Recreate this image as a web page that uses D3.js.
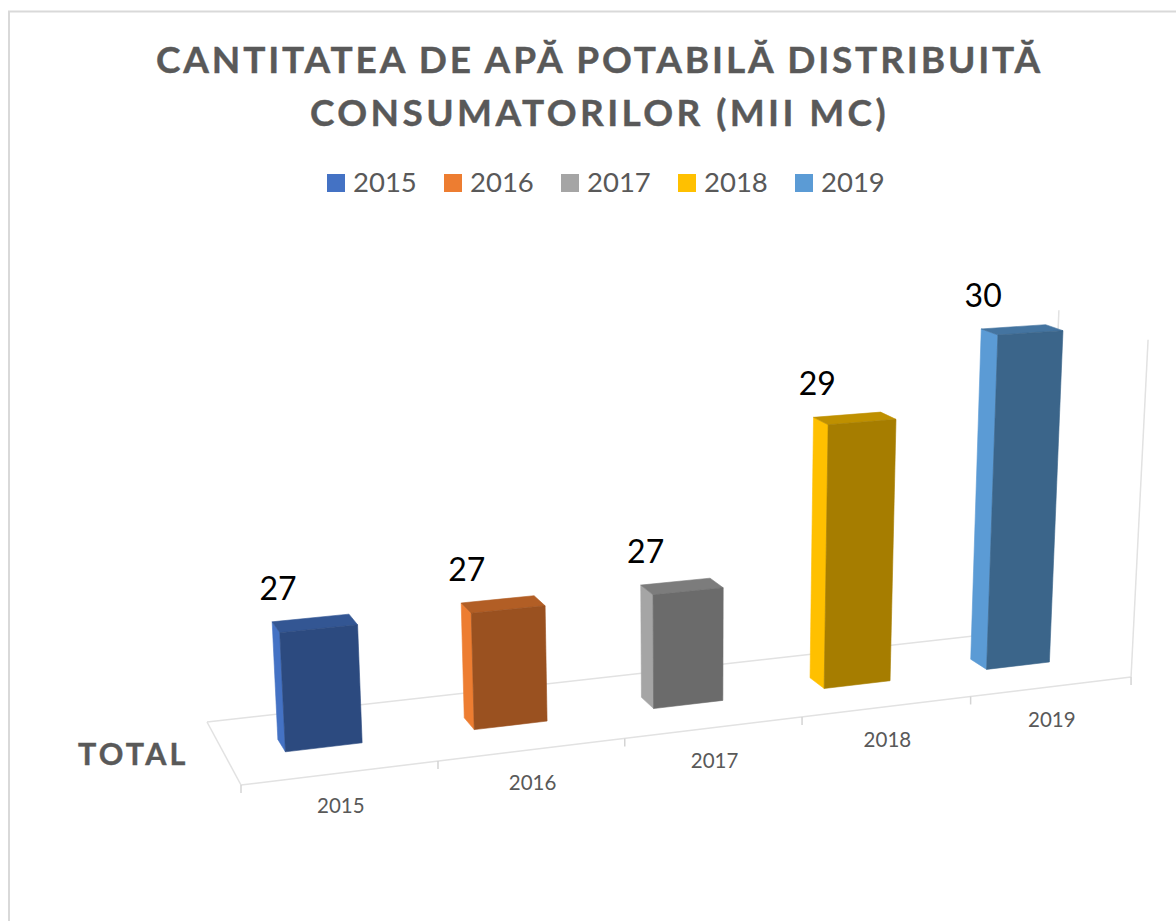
<!DOCTYPE html>
<html>
<head>
<meta charset="utf-8">
<script src="https://cdn.jsdelivr.net/npm/d3@7/dist/d3.min.js"></script>
<style>
html,body{margin:0;padding:0;background:#fff;}
svg{display:block;}
text{font-family:Lato,"Open Sans",sans-serif;}
</style>
</head>
<body>
<svg id="chart" width="1176" height="921"></svg>
<script>
const titleLines = ["CANTITATEA DE APĂ POTABILĂ DISTRIBUITĂ", "CONSUMATORILOR (MII MC)"];
const rowLabel = "TOTAL";
const years = ["2015", "2016", "2017", "2018", "2019"];
const values = [27, 27, 27, 29, 30];
const seriesColors = ["#4472C4", "#ED7D31", "#A5A5A5", "#FFC000", "#5B9BD5"];
const axisDomain = [25.5, 30];

const textColor = "#595959", lineColor = "#E2E2E2";
const svg = d3.select("#chart");

// Scales: category position, bar height, depth
const uScale = d3.scaleBand().domain(years).range([0, years.length]).paddingInner(0.6).paddingOuter(0.3);
const zScale = d3.scaleLinear().domain(axisDomain).range([0, 364.5]);
const depth = {front: 0.4, back: 0.6};

// Perspective camera (homogeneous projection of category, depth, height)
function project(u, d, z) {
  const w = 1 + 0.0274 * u + 0.0747 * d - 0.000117 * z;
  return [
    (241 + 209 * u - 18.5 * d - 0.0812 * z) / w,
    (785 - 3.05 * u - 9.07 * d - 1.092 * z) / w
  ];
}
const line = d3.line();
const shade = (c, f) => { const r = d3.rgb(c); return d3.rgb(r.r * f, r.g * f, r.b * f).formatHex(); };

// Outer frame
svg.append("path").attr("d", line([[9, 921], [9, 11.5], [1176, 11.5]]))
  .attr("fill", "none").attr("stroke", "#D9D9D9").attr("stroke-width", 2);

// Title
const titleSpacing = [2.86, 3.41];
svg.append("g").selectAll("text").data(titleLines).join("text")
  .attr("x", 599.5).attr("y", (d, i) => 73 + i * 52.5)
  .attr("text-anchor", "middle").attr("font-size", 37).attr("font-weight", 700)
  .attr("letter-spacing", (d, i) => titleSpacing[i]).attr("fill", textColor)
  .attr("stroke", textColor).attr("stroke-width", 0.4).text(d => d);

// Legend
const legendX = d3.scalePoint().domain(years).range([327, 795]);
const legend = svg.append("g").selectAll("g").data(years).join("g")
  .attr("transform", d => `translate(${legendX(d)},174)`);
legend.append("rect").attr("width", 18).attr("height", 18).attr("fill", (d, i) => seriesColors[i]);
legend.append("text").attr("x", 26).attr("y", 18).attr("font-size", 27.5)
  .attr("fill", textColor).text(d => d);

// Floor and walls
const n = years.length, zTop = zScale(axisDomain[1]);
const floorLines = [
  [project(0, 1, 0), project(n, 1, 0)],
  [project(0, 1, 0), project(0, 0, 0)],
  [project(0, 0, 0), project(n, 0, 0)],
  [project(n, 0, 0), project(n, 0, zTop)],
  [project(n, 1, 0), project(n, 1, zTop)]
];
svg.append("g").selectAll("path").data(floorLines).join("path")
  .attr("d", line).attr("fill", "none").attr("stroke", lineColor).attr("stroke-width", 1.5);

// Ticks
svg.append("g").selectAll("path").data(d3.range(n + 1)).join("path")
  .attr("d", u => { const p = project(u, 0, 0); return line([p, [p[0], p[1] + 8]]); })
  .attr("fill", "none").attr("stroke", "#D4D4D4").attr("stroke-width", 1.5);

// Category labels
const step = uScale.step();
svg.append("g").selectAll("text").data(years).join("text")
  .attr("x", (d, i) => project((i + 0.5) * step, 0, 0)[0])
  .attr("y", (d, i) => project((i + 0.5) * step, 0, 0)[1] + 40)
  .attr("text-anchor", "middle").attr("font-size", 20.5).attr("fill", textColor).text(d => d);

// Bars, painted back-to-front faces
const bars = svg.append("g").selectAll("g").data(years).join("g");
function addFace(g, pts, fill) {
  g.append("path").attr("d", line(pts) + "Z").attr("fill", fill)
    .attr("stroke", fill).attr("stroke-width", 0.6).attr("stroke-linejoin", "round");
}
bars.each(function (y, i) {
  const g = d3.select(this);
  const u0 = uScale(y), u1 = u0 + uScale.bandwidth();
  const h = zScale(values[i]), c = seriesColors[i];
  const df = depth.front, db = depth.back;
  addFace(g, [project(u0, db, 0), project(u0, df, 0), project(u0, df, h), project(u0, db, h)], c);
  addFace(g, [project(u0, df, h), project(u1, df, h), project(u1, db, h), project(u0, db, h)], shade(c, 0.75));
  addFace(g, [project(u0, df, 0), project(u1, df, 0), project(u1, df, h), project(u0, df, h)], shade(c, 0.65));
});

// Data labels
svg.append("g").selectAll("text").data(years).join("text")
  .attr("x", (y, i) => project(uScale(y), depth.back, zScale(values[i]))[0] + 5.9 - 0.25 * i * i)
  .attr("y", (y, i) => project(uScale(y), depth.back, zScale(values[i]))[1] - 22)
  .attr("text-anchor", "middle").attr("font-size", 32).attr("fill", "#000")
  .text((y, i) => values[i]);

// Row label
svg.append("text").attr("x", 78).attr("y", 765).attr("font-size", 30.5).attr("font-weight", 700)
  .attr("letter-spacing", 3.2).attr("fill", textColor)
  .attr("stroke", textColor).attr("stroke-width", 0.4).text(rowLabel);
</script>
</body>
</html>
